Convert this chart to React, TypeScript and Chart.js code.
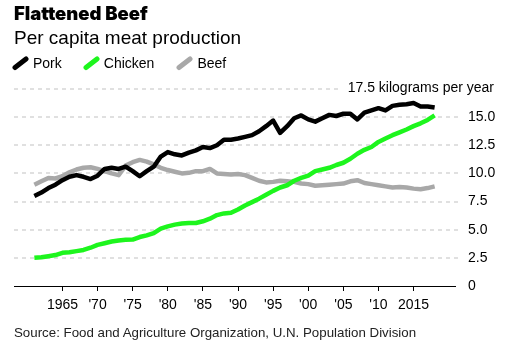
import React, { useEffect, useRef } from "react";
import { Chart, registerables } from "chart.js";

Chart.register(...registerables);

const titleText = "Flattened Beef";
const subtitleText = "Per capita meat production";
const sourceText = "Source: Food and Agriculture Organization, U.N. Population Division";
const seriesNames = ["Pork", "Chicken", "Beef"];
const seriesColors = ["#000000", "#1df51d", "#a8a8a8"];

const years = [
  1961, 1962, 1963, 1964, 1965, 1966, 1967, 1968, 1969, 1970,
  1971, 1972, 1973, 1974, 1975, 1976, 1977, 1978, 1979, 1980,
  1981, 1982, 1983, 1984, 1985, 1986, 1987, 1988, 1989, 1990,
  1991, 1992, 1993, 1994, 1995, 1996, 1997, 1998, 1999, 2000,
  2001, 2002, 2003, 2004, 2005, 2006, 2007, 2008, 2009, 2010,
  2011, 2012, 2013, 2014, 2015, 2016, 2017, 2018,
];

const pork = [
  8.0, 8.3, 8.7, 9.0, 9.4, 9.7, 9.85, 9.7, 9.5, 9.8,
  10.4, 10.5, 10.4, 10.6, 10.2, 9.75, 10.2, 10.6, 11.5, 11.9,
  11.7, 11.6, 11.85, 12.05, 12.35, 12.25, 12.5, 13.0, 13.0, 13.1,
  13.25, 13.4, 13.75, 14.2, 14.7, 13.6, 14.2, 14.9, 15.15, 14.8,
  14.6, 14.9, 15.2, 15.1, 15.3, 15.3, 14.8, 15.4, 15.6, 15.8,
  15.6, 16.0, 16.1, 16.15, 16.25, 15.95, 15.95, 15.85,
];

const chicken = [
  2.5, 2.55, 2.65, 2.75, 2.95, 3.0, 3.1, 3.2, 3.4, 3.65,
  3.8, 3.95, 4.05, 4.1, 4.12, 4.35, 4.5, 4.7, 5.1, 5.3,
  5.45, 5.55, 5.6, 5.6, 5.75, 5.98, 6.3, 6.45, 6.5, 6.8,
  7.15, 7.45, 7.76, 8.1, 8.45, 8.75, 8.95, 9.35, 9.6, 9.8,
  10.2, 10.35, 10.5, 10.75, 10.95, 11.3, 11.75, 12.1, 12.35, 12.8,
  13.1, 13.4, 13.65, 13.9, 14.2, 14.45, 14.75, 15.15,
];

const beef = [
  9.0, 9.3, 9.6, 9.55, 9.75, 10.1, 10.35, 10.5, 10.55, 10.4,
  10.2, 10.0, 9.85, 10.7, 11.0, 11.2, 11.05, 10.8, 10.5, 10.3,
  10.15, 10.0, 10.05, 10.2, 10.2, 10.4, 10.0, 9.95, 9.9, 9.95,
  9.85, 9.6, 9.35, 9.2, 9.25, 9.35, 9.3, 9.25, 9.1, 9.05,
  8.9, 8.95, 9.0, 9.05, 9.1, 9.3, 9.4, 9.15, 9.05, 8.95,
  8.85, 8.75, 8.8, 8.75, 8.65, 8.6, 8.7, 8.85,
];

const xTickYears = [1965, 1970, 1975, 1980, 1985, 1990, 1995, 2000, 2005, 2010, 2015];
const xTickLabels = ["1965", "'70", "'75", "'80", "'85", "'90", "'95", "'00", "'05", "'10", "2015"];
const yTickValues = [0, 2.5, 5, 7.5, 10, 12.5, 15, 17.5];
const yTickLabels = ["0", "2.5", "5.0", "7.5", "10.0", "12.5", "15.0", "17.5 kilograms per year"];

const FONT = '"Liberation Sans", Arial, Helvetica, sans-serif';

const gridPlugin = {
  id: "customGrid",
  beforeDatasetsDraw(chart: any) {
    const { ctx, chartArea, scales } = chart;
    const y = scales.y;
    const last = yTickValues.length - 1;
    ctx.save();
    ctx.font = `14px ${FONT}`;
    const topLabel = yTickLabels[last];
    const labelRight = 494;
    const labelW = ctx.measureText(topLabel).width;
    ctx.strokeStyle = "#e0e0e0";
    ctx.lineWidth = 2;
    ctx.setLineDash([4, 4]);
    yTickValues.forEach((v, i) => {
      if (v === 0) return;
      const py = Math.round(y.getPixelForValue(v));
      const xEnd = i === last ? labelRight - labelW - 8 : chartArea.right + 5;
      ctx.beginPath();
      ctx.moveTo(chartArea.left, py);
      ctx.lineTo(xEnd, py);
      ctx.stroke();
    });
    ctx.setLineDash([]);
    ctx.fillStyle = "#000";
    ctx.textAlign = "right";
    ctx.textBaseline = "middle";
    ctx.fillText(topLabel, labelRight, y.getPixelForValue(yTickValues[last]) - 1);
    ctx.restore();
  },
};

function LegendMark({ color }: { color: string }) {
  return (
    <svg width="18" height="16" style={{ display: "block" }}>
      <line x1="3" y1="12.5" x2="14" y2="4" stroke={color} strokeWidth="5" strokeLinecap="round" />
    </svg>
  );
}

export default function App() {
  const canvasRef = useRef<HTMLCanvasElement | null>(null);

  useEffect(() => {
    const canvas = canvasRef.current;
    if (!canvas) return;
    const seriesData = [pork, chicken, beef];
    const chart = new Chart(canvas, {
      type: "line",
      data: {
        datasets: seriesNames.map((name, si) => ({
          label: name,
          data: years.map((yr, i) => ({ x: yr, y: seriesData[si][i] })),
          borderColor: seriesColors[si],
          backgroundColor: seriesColors[si],
          borderWidth: 4.5,
          pointRadius: 0,
          tension: 0,
          borderJoinStyle: "round" as const,
          borderCapStyle: "butt" as const,
          fill: false,
        })),
      },
      options: {
        animation: false,
        responsive: false,
        maintainAspectRatio: false,
        layout: { padding: { left: 14, right: 0, top: 89, bottom: 41 } },
        plugins: {
          legend: { display: false },
          tooltip: { enabled: false },
          title: { display: false },
        },
        scales: {
          x: {
            type: "linear",
            min: 1958.1,
            max: 2020.9,
            afterBuildTicks: (scale: any) => {
              scale.ticks = xTickYears.map((v) => ({ value: v }));
            },
            afterFit: (scale: any) => {
              scale.height = 30;
            },
            ticks: {
              autoSkip: false,
              maxRotation: 0,
              padding: 6,
              color: "#000",
              font: { family: FONT, size: 14 },
              callback: (value: any) => {
                const idx = xTickYears.indexOf(Number(value));
                return idx >= 0 ? xTickLabels[idx] : "";
              },
            },
            grid: {
              display: true,
              drawOnChartArea: false,
              drawTicks: true,
              tickLength: 5,
              color: "#000",
              lineWidth: 1,
            },
            border: { display: true, color: "#000", width: 1 },
          },
          y: {
            type: "linear",
            position: "right",
            min: 0,
            max: 17.5,
            afterBuildTicks: (scale: any) => {
              scale.ticks = yTickValues.map((v) => ({ value: v }));
            },
            afterFit: (scale: any) => {
              scale.width = 60;
            },
            ticks: {
              autoSkip: false,
              padding: 13,
              color: "#000",
              font: { family: FONT, size: 14 },
              callback: (value: any) => {
                const idx = yTickValues.indexOf(Number(value));
                if (idx < 0 || idx === yTickValues.length - 1) return "";
                return yTickLabels[idx];
              },
            },
            grid: { display: false, drawTicks: false },
            border: { display: false },
          },
        },
      },
      plugins: [gridPlugin],
    } as any);
    return () => chart.destroy();
  }, []);

  return (
    <div style={{ position: "fixed", left: 0, top: 0, width: 515, height: 357, background: "#fff", overflow: "hidden" }}>
      <canvas ref={canvasRef} width={515} height={357} style={{ position: "absolute", left: 0, top: 0, width: 515, height: 357 }} />
      <div style={{ position: "absolute", left: 14, top: 4, fontFamily: 'Inter, "DejaVu Sans", sans-serif', fontWeight: 900, fontSize: 18.5, lineHeight: "18px", letterSpacing: "0px", color: "#000", whiteSpace: "nowrap" }}>
        {titleText}
      </div>
      <div style={{ position: "absolute", left: 14, top: 29, fontFamily: FONT, fontSize: 19, lineHeight: "18px", color: "#000", whiteSpace: "nowrap" }}>
        {subtitleText}
      </div>
      <div style={{ position: "absolute", left: 12, top: 55, display: "flex", alignItems: "center", fontFamily: FONT, fontSize: 14, lineHeight: "16px", color: "#000", whiteSpace: "nowrap" }}>
        {seriesNames.map((name, i) => (
          <div key={name} style={{ display: "flex", alignItems: "center", marginRight: i === 0 ? 21 : 22 }}>
            <LegendMark color={seriesColors[i]} />
            <span style={{ marginLeft: 3 }}>{name}</span>
          </div>
        ))}
      </div>
      <div style={{ position: "absolute", left: 14, top: 326, fontFamily: FONT, fontSize: 13.3, lineHeight: "13px", color: "#222", whiteSpace: "nowrap" }}>
        {sourceText}
      </div>
    </div>
  );
}
